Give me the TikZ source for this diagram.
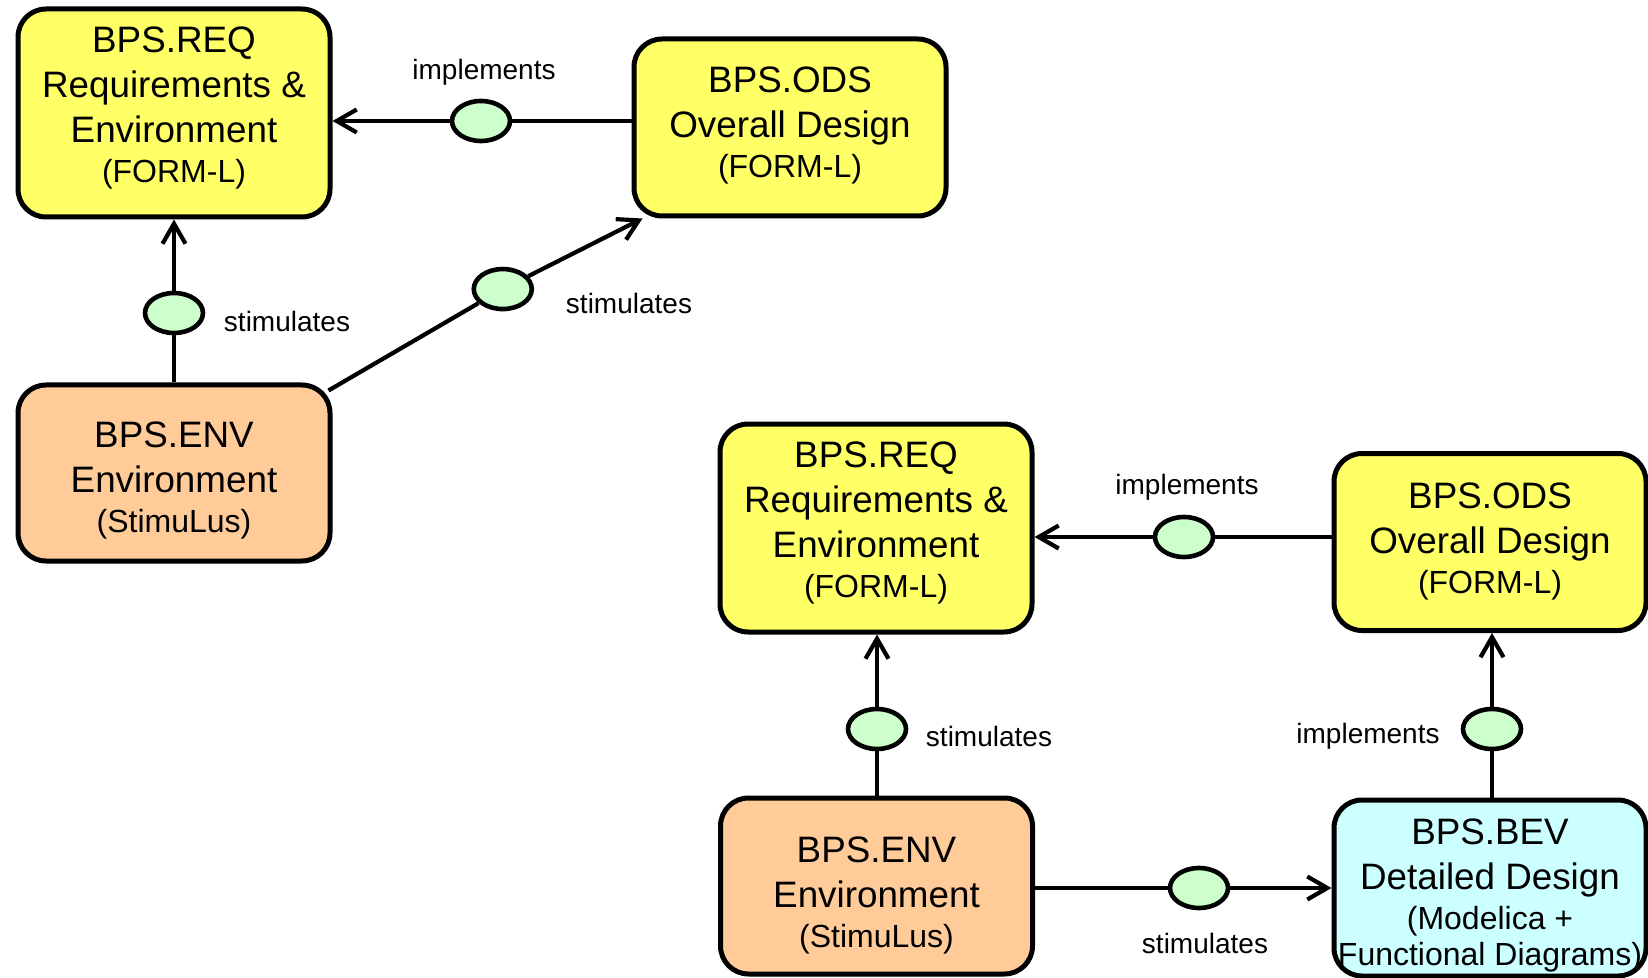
\documentclass[tikz,border=0pt]{standalone}
\usepackage{fontspec}
\setmainfont{Liberation Sans}
\usetikzlibrary{arrows.meta,shapes.geometric,calc}

\definecolor{reqyellow}{HTML}{FFFF66}
\definecolor{envorange}{HTML}{FFCC99}
\definecolor{bevcyan}{HTML}{CCFFFF}
\definecolor{ovalgreen}{HTML}{CCFFCC}

% smaller type for the notation line of each block
\newcommand\boxsub{\fontsize{16}{18}\selectfont}

\begin{document}
\begin{tikzpicture}[x=0.5pt,y=-0.5pt,
  block/.style={draw=black, line width=2.5pt, rounded corners=14pt,
    minimum width=156pt, inner sep=0pt},
  reqbox/.style={block, fill=reqyellow, minimum height=104pt},
  odsbox/.style={block, fill=reqyellow, minimum height=88.5pt},
  envbox/.style={block, fill=envorange, minimum height=88pt},
  bevbox/.style={block, fill=bevcyan, minimum height=88pt},
  blocktext/.style={align=center, inner sep=0pt,
    font=\fontsize{18.4}{22.5}\selectfont},
  oval/.style={ellipse, draw=black, line width=2.3pt, fill=ovalgreen,
    minimum width=29pt, minimum height=20pt, inner sep=0pt},
  lbl/.style={font=\fontsize{14}{16}\selectfont, inner sep=0pt},
  conn/.style={line width=2.1pt},
  arr/.style={conn, -{Straight Barb[length=10pt,width=11.5pt]}}
]
\useasboundingbox (0,0) rectangle (1648,978);

% ---------- first configuration ----------
\node[reqbox] (req1) at (174,113) {};
\node[odsbox] (ods1) at (790,127.5) {};
\node[envbox] (env1) at (174,473) {};
\node[blocktext] (req1t) at ([yshift=2.6pt]req1.center)
  {BPS.REQ\\Requirements \&\\Environment\\[-2.5pt]{\boxsub (FORM-L)}};
\node[blocktext] (ods1t) at ([yshift=1pt]ods1.center)
  {BPS.ODS\\Overall Design\\[-2.5pt]{\boxsub (FORM-L)}};
\node[blocktext] (env1t) at ([yshift=-3.7pt]env1.center)
  {BPS.ENV\\Environment\\[-2.5pt]{\boxsub (StimuLus)}};

\node[oval] (e1) at (481,121) {};
\node[oval] (e2) at (174,313) {};
\coordinate (d1) at ([xshift=-2pt,yshift=-4pt]env1.north east);
\coordinate (d2) at ([xshift=5.5pt]ods1.south west);
\node[oval] (e3) at ([yshift=3pt]$(d1)!0.555!(d2)$) {};

\draw[conn] (ods1.west |- e1) -- (e1);
\draw[arr] (e1) -- (req1.east |- e1);
\draw[conn] (env1.north -| e2) -- (e2);
\draw[arr] (e2) -- (req1.south -| e2);
\draw[conn] (d1) -- (e3);
\draw[arr] (e3) -- (d2);

\node[lbl] (l1) at (484,72) {implements};
\node[lbl] (l2) at (287,321) {stimulates};
\node[lbl] (l3) at (629,303) {stimulates};

% ---------- second configuration ----------
\node[reqbox] (req2) at (876,528) {};
\node[odsbox] (ods2) at (1490,542) {};
\node[envbox] (env2) at (876.5,886) {};
\node[bevbox] (bev) at (1490,888) {};
\node[blocktext] (req2t) at ([yshift=2.6pt]req2.center)
  {BPS.REQ\\Requirements \&\\Environment\\[-2.5pt]{\boxsub (FORM-L)}};
\node[blocktext] (ods2t) at ([yshift=0.5pt]ods2.center)
  {BPS.ODS\\Overall Design\\[-2.5pt]{\boxsub (FORM-L)}};
\node[blocktext] (env2t) at ([yshift=-4.7pt]env2.center)
  {BPS.ENV\\Environment\\[-2.5pt]{\boxsub (StimuLus)}};
\node[blocktext] (bevt) at ([yshift=-3.9pt]bev.center)
  {BPS.BEV\\Detailed Design\\[-2.5pt]{\boxsub (Modelica +}\\[-4.5pt]{\boxsub Functional Diagrams)}};

\node[oval] (e4) at (1184,537) {};
\node[oval] (e5) at (877,729) {};
\node[oval] (e6) at (1492,729) {};
\node[oval] (e7) at (1199,888) {};

\draw[conn] (ods2.west |- e4) -- (e4);
\draw[arr] (e4) -- (req2.east |- e4);
\draw[conn] (env2.north -| e5) -- (e5);
\draw[arr] (e5) -- (req2.south -| e5);
\draw[conn] (bev.north -| e6) -- (e6);
\draw[arr] (e6) -- (ods2.south -| e6);
\draw[conn] (env2.east |- e7) -- (e7);
\draw[arr] (e7) -- (bev.west |- e7);

\node[lbl] (l4) at (1187,487) {implements};
\node[lbl] (l5) at (989,736) {stimulates};
\node[lbl] (l6) at (1368,736) {implements};
\node[lbl] (l7) at (1205,943) {stimulates};
\end{tikzpicture}
\end{document}
